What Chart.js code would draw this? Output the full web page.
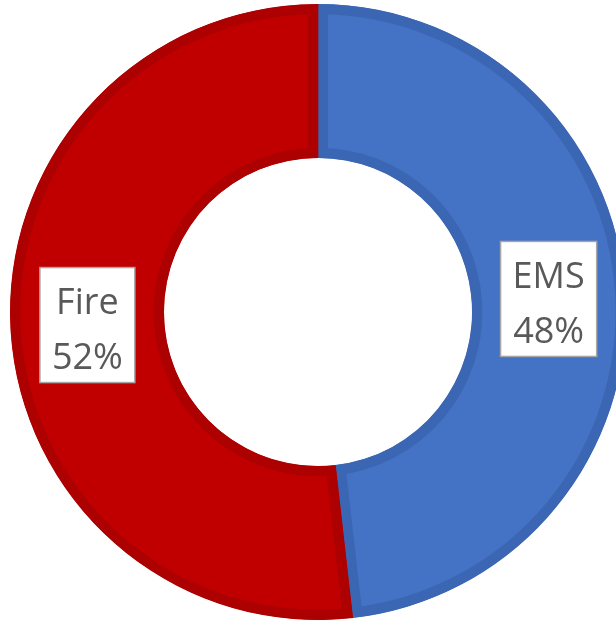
<!DOCTYPE html>
<html>
<head>
<meta charset="utf-8">
<script src="https://cdn.jsdelivr.net/npm/chart.js@4"></script>
<style>
  html, body { margin: 0; padding: 0; background: #fff; overflow: hidden; }
  #wrap { position: relative; width: 626px; height: 620px; }
</style>
</head>
<body>
<div id="wrap"><canvas id="donut"></canvas></div>
<script>
// data
const categories = ["EMS", "Fire"];
const shares = [48.2, 51.8];
const pctLabels = ["48%", "52%"];

const fillColors = ["#4472C4", "#C00000"];
const edgeColors = ["#3B66B3", "#AD0000"];

// boxed "name / pct" labels, like the Excel data labels
const boxLabels = {
  id: "boxLabels",
  afterDatasetsDraw(chart, args, opts) {
    const ctx = chart.ctx;
    const meta = chart.getDatasetMeta(0);
    ctx.save();
    ctx.font = opts.size + "px 'Open Sans', sans-serif";
    ctx.textAlign = "center";
    ctx.textBaseline = "alphabetic";
    meta.data.forEach((arc, i) => {
      const pos = arc.tooltipPosition();
      const lines = [categories[i], pctLabels[i]];
      const w = Math.max(...lines.map(t => ctx.measureText(t).width)) + opts.padX * 2;
      const h = opts.lineH * lines.length + opts.padY * 2;
      const x = pos.x - w / 2, y = pos.y - h / 2;
      ctx.fillStyle = "#fff";
      ctx.fillRect(x, y, w, h);
      ctx.strokeStyle = "#A6A6A6";
      ctx.lineWidth = 1.5;
      ctx.strokeRect(x, y, w, h);
      ctx.fillStyle = "#595959";
      lines.forEach((t, k) => {
        ctx.fillText(t, pos.x, y + opts.padY + opts.lineH * k + opts.lineH * 0.8);
      });
    });
    ctx.restore();
  }
};

new Chart(document.getElementById("donut"), {
  type: "doughnut",
  data: {
    labels: categories,
    datasets: [{
      data: shares,
      backgroundColor: fillColors,
      borderColor: edgeColors,
      borderWidth: 10,
      borderAlign: "inner"
    }]
  },
  options: {
    responsive: true,
    maintainAspectRatio: false,
    animation: false,
    cutout: "50%",
    rotation: 0,
    layout: { padding: { left: 10, top: 4, right: 0, bottom: 0 } },
    plugins: {
      legend: { display: false },
      tooltip: { enabled: false },
      boxLabels: { size: 36, lineH: 55, padX: 12, padY: 2.5 }
    }
  },
  plugins: [boxLabels]
});
</script>
</body>
</html>
